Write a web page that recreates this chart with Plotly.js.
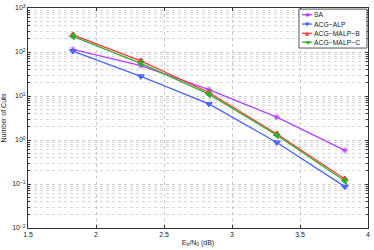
<!DOCTYPE html>
<html><head><meta charset="utf-8">
<script src="https://cdn.plot.ly/plotly-3.0.1.min.js"></script>
<style>html,body{margin:0;padding:0;background:#fff}#c{width:374px;height:250px}</style>
</head><body><div id="c"></div>
<script>
const ebno = [1.83, 2.33, 2.83, 3.33, 3.83];
const sa = [115, 49, 14, 3.3, 0.58];
const acgAlp = [105, 28, 6.6, 0.88, 0.087];
const acgMalpB = [245, 63, 12, 1.37, 0.13];
const acgMalpC = [227, 55, 11, 1.28, 0.117];
const names = ['SA', 'ACG\u2212ALP', 'ACG\u2212MALP\u2212B', 'ACG\u2212MALP\u2212C'];
const yTickVals = [0.01, 0.1, 1, 10, 100, 1000];
const yTickText = ['10<sup>\u22122</sup>', '10<sup>\u22121</sup>', '10<sup>0</sup>', '10<sup>1</sup>', '10<sup>2</sup>', '10<sup>3</sup>'];
const xTickVals = [1.5, 2, 2.5, 3, 3.5, 4];
const xTickText = ['1.5', '2', '2.5', '3', '3.5', '4'];

const colors = ['#b143ff', '#4a64ff', '#ff3a3a', '#2fae2f'];
const symbols = ['asterisk-open', 'triangle-down', 'triangle-up', 'triangle-left'];
const glyphs = ['\u2731', '\u25BC', '\u25B2', '\u25C0'];
const series = [sa, acgAlp, acgMalpB, acgMalpC];
const traces = series.map((s, i) => ({
  x: ebno, y: s, name: names[i], type: 'scatter', mode: 'lines+markers',
  line: {color: colors[i], width: 1.3},
  marker: {symbol: symbols[i], color: colors[i], size: i === 0 ? 5 : 6,
           line: {color: colors[i], width: 1}}
}));
const font = {family: 'Liberation Sans, Arial, sans-serif', size: 7, color: '#222'};

// custom compact legend (paper coordinates)
const legRows = [0.9695, 0.927, 0.885, 0.845];
const shapes = [{type: 'rect', xref: 'paper', yref: 'paper', x0: 0.797, x1: 0.997, y0: 0.818, y1: 0.995,
                 fillcolor: '#fff', line: {color: '#555', width: 1}, layer: 'above'}];
const annotations = [];
names.forEach((n, i) => {
  shapes.push({type: 'line', xref: 'paper', yref: 'paper', x0: 0.806, x1: 0.836, y0: legRows[i], y1: legRows[i],
               line: {color: colors[i], width: 1.3}, layer: 'above'});
  annotations.push({xref: 'paper', yref: 'paper', x: 0.821, y: legRows[i], text: glyphs[i], showarrow: false,
                    xanchor: 'center', yanchor: 'middle', font: {family: 'DejaVu Sans', size: i === 0 ? 6 : 5.5, color: colors[i]}});
  annotations.push({xref: 'paper', yref: 'paper', x: 0.836, y: legRows[i], text: n, showarrow: false,
                    xanchor: 'left', yanchor: 'middle', font: {family: font.family, size: 6.8, color: '#222'}});
});

const layout = {
  width: 374, height: 250,
  margin: {l: 28, r: 6, t: 8, b: 22},
  paper_bgcolor: '#fff', plot_bgcolor: '#fff',
  font: font,
  showlegend: false,
  shapes: shapes, annotations: annotations,
  xaxis: {range: [1.5, 4], tickvals: xTickVals, ticktext: xTickText,
          showgrid: true, gridcolor: '#c8c8c8', griddash: 'dot', gridwidth: 1,
          showline: true, linecolor: '#333', linewidth: 1, mirror: 'ticks',
          ticks: 'inside', ticklen: 3, tickcolor: '#333', zeroline: false,
          title: {text: 'E<sub>b</sub>/N<sub>0</sub> (dB)', font: {size: 7}, standoff: 2}},
  yaxis: {type: 'log', range: [-2, 3], tickvals: yTickVals, ticktext: yTickText,
          showgrid: true, gridcolor: '#c8c8c8', griddash: 'dot', gridwidth: 1,
          minor: {dtick: 'D1', showgrid: true, gridcolor: '#d8d8d8', griddash: 'dot', ticks: 'inside', ticklen: 2, tickcolor: '#333'},
          showline: true, linecolor: '#333', linewidth: 1, mirror: 'ticks',
          ticks: 'inside', ticklen: 3, tickcolor: '#333', zeroline: false,
          title: {text: 'Number of Cuts', font: {size: 7}, standoff: 4}}
};
Plotly.newPlot('c', traces, layout, {displayModeBar: false, staticPlot: true});
</script></body></html>
